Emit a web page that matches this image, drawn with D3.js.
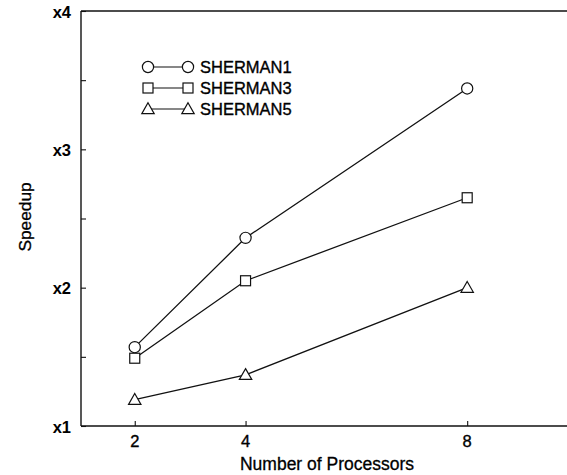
<!DOCTYPE html>
<html>
<head>
<meta charset="utf-8">
<script src="https://cdn.jsdelivr.net/npm/d3@7"></script>
<style>
  html, body { margin: 0; padding: 0; background: #fff; }
  svg { display: block; }
  text { font-family: "Liberation Sans", Arial, Helvetica, sans-serif; fill: #000; }
</style>
</head>
<body>
<svg id="chart" width="567" height="475"></svg>
<script>
const processors = [2, 4, 8];
const sherman1 = [1.57, 2.36, 3.44];
const sherman3 = [1.49, 2.05, 2.65];
const sherman5 = [1.19, 1.37, 2.0];
const seriesNames = ["SHERMAN1", "SHERMAN3", "SHERMAN5"];
const seriesSymbols = ["circle", "square", "triangle"];
const yTickValues = [1, 2, 3, 4];
const yTickLabels = ["x1", "x2", "x3", "x4"];
const yMinorTicks = [1.5, 2.5, 3.5];
const xTickValues = [2, 4, 8];
const xTitle = "Number of Processors";
const yTitle = "Speedup";

const series = [sherman1, sherman3, sherman5].map((vals, i) => ({
  name: seriesNames[i], symbol: seriesSymbols[i],
  points: processors.map((p, j) => ({ x: p, y: vals[j] }))
}));

const W = 567, H = 475;
const svg = d3.select("#chart");
const x = d3.scaleLinear().domain([1.03, 10]).range([81, 578]);
const y = d3.scaleLinear().domain([1, 4]).range([426, 11]);
const x0 = x.range()[0];
const ink = "#111";

const g = svg.append("g");

// frame (left, bottom, top; right side cropped)
g.append("line").attr("x1", x0).attr("x2", x0).attr("y1", y(4)).attr("y2", y(1))
  .attr("stroke", ink).attr("stroke-width", 1.4);
g.append("line").attr("x1", x0).attr("x2", W).attr("y1", y(1)).attr("y2", y(1))
  .attr("stroke", ink).attr("stroke-width", 1.4);
g.append("line").attr("x1", x0).attr("x2", W).attr("y1", y(4)).attr("y2", y(4))
  .attr("stroke", ink).attr("stroke-width", 1.4);

// y axis ticks (inward) and labels
const yAxis = d3.axisRight(y).tickValues(yTickValues.concat(yMinorTicks))
  .tickSize(5).tickFormat("");
const yAx = g.append("g").attr("transform", `translate(${x0},0)`).call(yAxis);
yAx.select(".domain").remove();
yAx.selectAll("line").attr("stroke", ink).attr("stroke-width", 1.1);

g.selectAll(".ylab").data(yTickValues).join("text")
  .attr("class", "ylab")
  .attr("x", 71).attr("y", d => y(d) + 6.5)
  .attr("text-anchor", "end")
  .attr("font-size", 16.5).attr("font-weight", "bold")
  .text((d, i) => yTickLabels[i]);

// x axis ticks (inward) and labels
const xAxis = d3.axisTop(x).tickValues(xTickValues).tickSize(5).tickFormat("");
const xAx = g.append("g").attr("transform", `translate(0,${y(1)})`).call(xAxis);
xAx.select(".domain").remove();
xAx.selectAll("line").attr("stroke", ink).attr("stroke-width", 1.1);

g.selectAll(".xlab").data(xTickValues).join("text")
  .attr("class", "xlab")
  .attr("x", d => x(d)).attr("y", 447)
  .attr("text-anchor", "middle")
  .attr("font-size", 16.5).attr("stroke", "#000").attr("stroke-width", 0.35)
  .text(d => d);

// titles
g.append("text").attr("x", 327).attr("y", 470).attr("text-anchor", "middle")
  .attr("font-size", 17.5).attr("stroke", "#000").attr("stroke-width", 0.3).text(xTitle);
g.append("text").attr("transform", "translate(31,217) rotate(-90)")
  .attr("text-anchor", "middle").attr("font-size", 17.3)
  .attr("stroke", "#000").attr("stroke-width", 0.3).text(yTitle);

// symbols
function drawSymbol(sel, type, cx, cy) {
  if (type === "circle") {
    sel.append("circle").attr("cx", cx).attr("cy", cy).attr("r", 5.6)
      .attr("fill", "#fff").attr("stroke", ink).attr("stroke-width", 1.2);
  } else if (type === "square") {
    sel.append("rect").attr("x", cx - 5).attr("y", cy - 5).attr("width", 10).attr("height", 10)
      .attr("fill", "#fff").attr("stroke", ink).attr("stroke-width", 1.2);
  } else {
    const s = 6.2;
    sel.append("path")
      .attr("d", `M${cx},${cy - s} L${cx + s},${cy + s * 0.75} L${cx - s},${cy + s * 0.75} Z`)
      .attr("fill", "#fff").attr("stroke", ink).attr("stroke-width", 1.2);
  }
}

const line = d3.line().x(d => x(d.x)).y(d => y(d.y));
series.forEach(s => {
  g.append("path").datum(s.points).attr("d", line)
    .attr("fill", "none").attr("stroke", ink).attr("stroke-width", 1.3);
});
series.forEach(s => {
  const sg = g.append("g");
  s.points.forEach(p => drawSymbol(sg, s.symbol, x(p.x), y(p.y)));
});

// legend
const legRows = [67, 88, 109];
series.forEach((s, i) => {
  const lg = g.append("g");
  const ly = legRows[i];
  lg.append("line").attr("x1", 148).attr("x2", 188).attr("y1", ly).attr("y2", ly)
    .attr("stroke", ink).attr("stroke-width", 1.2);
  drawSymbol(lg, s.symbol, 148, ly);
  drawSymbol(lg, s.symbol, 188, ly);
  lg.append("text").attr("x", 200).attr("y", ly + 6).attr("font-size", 16.5)
    .attr("stroke", "#000").attr("stroke-width", 0.35)
    .text(s.name);
});
</script>
</body>
</html>
